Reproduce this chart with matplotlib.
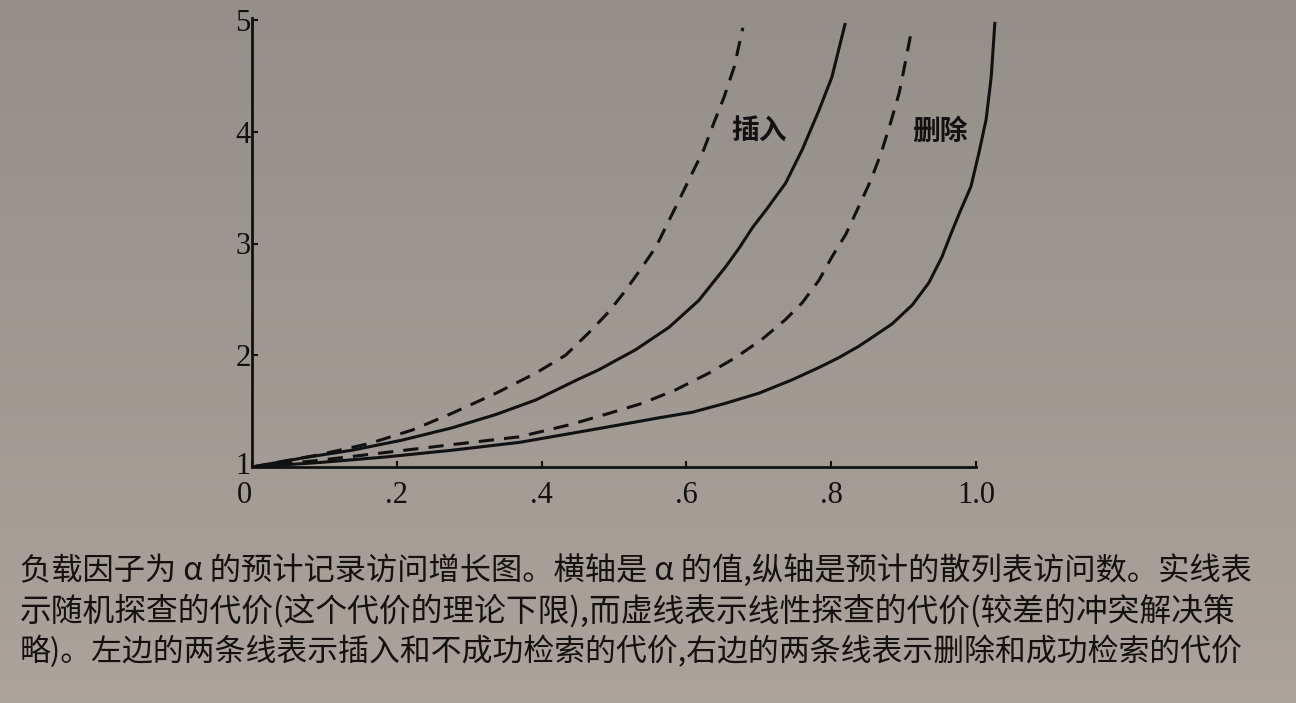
import numpy as np
import matplotlib
matplotlib.use('Agg')
import matplotlib.pyplot as plt
import matplotlib.transforms as mtransforms

plt.rcParams['font.family'] = ['Noto Sans CJK SC', 'DejaVu Sans']

# load factor (alpha) vs expected accesses
# left pair: insertion / unsuccessful search
ins_lin_x = [0, 0.093, 0.162, 0.221, 0.276, 0.337, 0.392, 0.433, 0.465, 0.493, 0.516,
             0.539, 0.558, 0.590, 0.608, 0.624, 0.638, 0.652, 0.666, 0.678]
ins_lin_y = [1.0, 1.11, 1.21, 1.33, 1.48, 1.66, 1.84, 2.0, 2.2, 2.39, 2.58,
             2.79, 2.97, 3.39, 3.63, 3.84, 4.08, 4.31, 4.58, 4.93]

ins_rnd_x = [0, 0.069, 0.138, 0.207, 0.276, 0.337, 0.392, 0.449, 0.479, 0.530, 0.576,
             0.617, 0.654, 0.673, 0.691, 0.710, 0.737, 0.760, 0.783, 0.801, 0.819]
ins_rnd_y = [1.0, 1.08, 1.15, 1.24, 1.35, 1.47, 1.60, 1.78, 1.87, 2.05, 2.25,
             2.49, 2.79, 2.96, 3.14, 3.30, 3.54, 3.84, 4.19, 4.49, 4.96]

# right pair: deletion / successful search
del_lin_x = [0, 0.093, 0.185, 0.276, 0.369, 0.44, 0.493, 0.539, 0.585, 0.631, 0.668,
             0.704, 0.737, 0.760, 0.783, 0.801, 0.820, 0.838, 0.855, 0.869, 0.882,
             0.894, 0.903, 0.911]
del_lin_y = [1.0, 1.06, 1.13, 1.20, 1.27, 1.38, 1.48, 1.57, 1.69, 1.84, 1.98,
             2.14, 2.32, 2.47, 2.67, 2.88, 3.08, 3.33, 3.57, 3.81, 4.08,
             4.35, 4.64, 4.91]

del_rnd_x = [0, 0.093, 0.185, 0.276, 0.369, 0.449, 0.493, 0.562, 0.608, 0.654, 0.700,
             0.746, 0.783, 0.811, 0.838, 0.852, 0.884, 0.912, 0.935, 0.953, 0.965,
             0.977, 0.993, 1.004, 1.014, 1.021, 1.026]
del_rnd_y = [1.0, 1.04, 1.09, 1.15, 1.22, 1.31, 1.36, 1.44, 1.49, 1.57, 1.66,
             1.78, 1.89, 1.98, 2.08, 2.14, 2.28, 2.45, 2.65, 2.88, 3.08,
             3.27, 3.51, 3.81, 4.11, 4.49, 4.97]

xticks = [0, 0.2, 0.4, 0.6, 0.8, 1.0]
xtick_labels = ['0', '.2', '.4', '.6', '.8', '1.0']
yticks = [1, 2, 3, 4, 5]

caption = [
    '负载因子为 α 的预计记录访问增长图。横轴是 α 的值,纵轴是预计的散列表访问数。实线表',
    '示随机探查的代价(这个代价的理论下限),而虚线表示线性探查的代价(较差的冲突解决策',
    '略)。左边的两条线表示插入和不成功检索的代价,右边的两条线表示删除和成功检索的代价',
]
caption_sizes = [22.5, 22.9, 22.2]

W, H = 1296, 703
fig = plt.figure(figsize=(W / 100, H / 100), dpi=100)

# paper background, slightly darker towards the top
bg = fig.add_axes([0, 0, 1, 1])
grad = np.linspace(0, 1, 600)[:, None, None]
top = np.array([0.58, 0.56, 0.54])
bot = np.array([0.67, 0.64, 0.61])
img = np.repeat(top + (bot - top) * grad, 2, axis=1)
bg.imshow(img, aspect='auto', extent=[0, 1, 0, 1], origin='upper', interpolation='bilinear')
bg.set_axis_off()

# axes placed so that the origin sits at about (252, 467) px
x0, y0 = 252, 467
px_x, px_y = 724, 111.75
xmax, ymax = 1.1, 5.05
ax = fig.add_axes([x0 / W, (H - y0) / H, xmax * px_x / W, (ymax - 1) * px_y / H])
ax.patch.set_alpha(0)

lw = 2.2
ink = '#111'
ax.plot(ins_lin_x, ins_lin_y, color=ink, lw=lw, dashes=(5, 3.3))
ax.plot(ins_rnd_x, ins_rnd_y, color=ink, lw=lw, solid_joinstyle='round')
ax.plot(del_lin_x, del_lin_y, color=ink, lw=lw, dashes=(5, 3.3))
ax.plot(del_rnd_x, del_rnd_y, color=ink, lw=lw, solid_joinstyle='round')

ax.text(0.70, 4.0, '插入', fontsize=20, fontweight='bold', ha='center', va='center', color=ink)
ax.text(0.95, 4.0, '删除', fontsize=20, fontweight='bold', ha='center', va='center', color=ink)

ax.set_xlim(0, xmax)
ax.set_ylim(1, ymax)
for s in ['top', 'right']:
    ax.spines[s].set_visible(False)
ax.spines['left'].set_bounds(1, 5.02)
ax.spines['bottom'].set_bounds(0, 1.0)
for s in ['left', 'bottom']:
    ax.spines[s].set_linewidth(2)
    ax.spines[s].set_color(ink)

ax.set_xticks(xticks)
ax.set_xticklabels(xtick_labels)
ax.set_yticks(yticks)
ax.tick_params(direction='in', length=4, width=1.5, color=ink,
               labelsize=22, labelcolor=ink)
ax.tick_params(axis='x', pad=10)
ax.tick_params(axis='y', pad=1)
for lab in ax.get_xticklabels() + ax.get_yticklabels():
    lab.set_family('Liberation Serif')

# the "1" and the "0" sit very close at the origin; nudge them apart a little
ax.get_xticklabels()[0].set_ha('right')
lab1 = ax.get_yticklabels()[0]
lab1.set_transform(lab1.get_transform() + mtransforms.ScaledTranslation(0, 3 / 72, fig.dpi_scale_trans))

for i, line in enumerate(caption):
    fig.text(20 / W, (H - 570 - 41 * i) / H, line, fontsize=caption_sizes[i],
             fontweight='medium', color='#141210', ha='left', va='center')

fig.savefig('out.png', dpi=100)
